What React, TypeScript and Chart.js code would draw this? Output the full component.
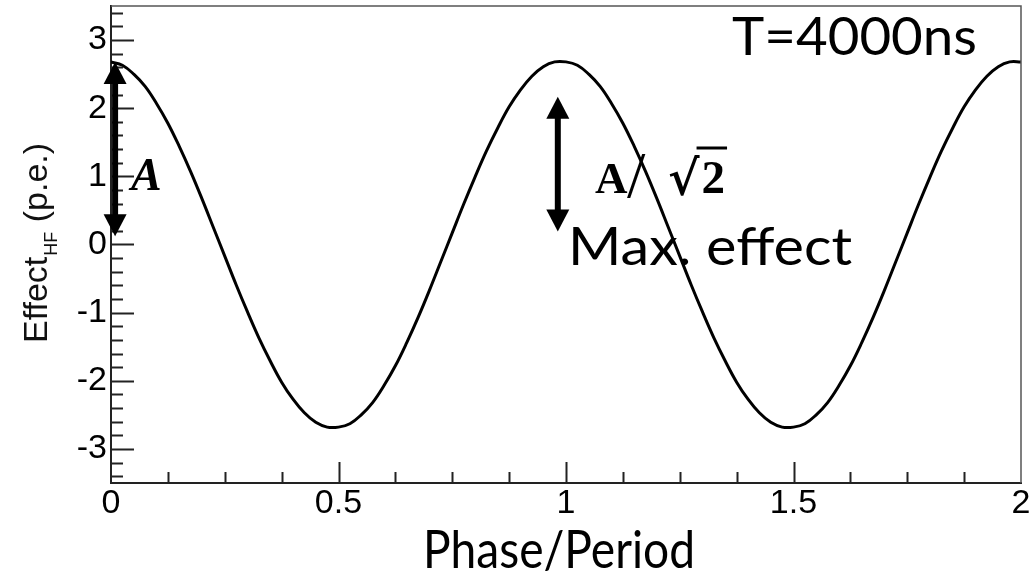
import React, { useEffect, useRef } from "react";
import { Chart, registerables } from "chart.js";

Chart.register(...registerables);

// ---- data ----
const phase = [
  0, 0.025, 0.05, 0.075, 0.1, 0.125, 0.15, 0.175, 0.2, 0.225,
  0.25, 0.275, 0.3, 0.325, 0.35, 0.375, 0.4, 0.425, 0.45, 0.475,
  0.5, 0.525, 0.55, 0.575, 0.6, 0.625, 0.65, 0.675, 0.7, 0.725,
  0.75, 0.775, 0.8, 0.825, 0.85, 0.875, 0.9, 0.925, 0.95, 0.975,
  1.0, 1.025, 1.05, 1.075, 1.1, 1.125, 1.15, 1.175, 1.2, 1.225,
  1.25, 1.275, 1.3, 1.325, 1.35, 1.375, 1.4, 1.425, 1.45, 1.475,
  1.5, 1.525, 1.55, 1.575, 1.6, 1.625, 1.65, 1.675, 1.7, 1.725,
  1.75, 1.775, 1.8, 1.825, 1.85, 1.875, 1.9, 1.925, 1.95, 1.975, 2.0,
];
const effect = [
  2.68, 2.63, 2.5, 2.32, 2.07, 1.78, 1.44, 1.07, 0.67, 0.25,
  -0.17, -0.59, -0.99, -1.37, -1.71, -2.02, -2.27, -2.47, -2.61, -2.68,
  -2.68, -2.63, -2.5, -2.32, -2.07, -1.78, -1.44, -1.07, -0.67, -0.25,
  0.17, 0.59, 0.99, 1.37, 1.71, 2.02, 2.27, 2.47, 2.61, 2.68,
  2.68, 2.63, 2.5, 2.32, 2.07, 1.78, 1.44, 1.07, 0.67, 0.25,
  -0.17, -0.59, -0.99, -1.37, -1.71, -2.02, -2.27, -2.47, -2.61, -2.68,
  -2.68, -2.63, -2.5, -2.32, -2.07, -1.78, -1.44, -1.07, -0.67, -0.25,
  0.17, 0.59, 0.99, 1.37, 1.71, 2.02, 2.27, 2.47, 2.61, 2.68, 2.68,
];
const xTickValues = [0, 0.5, 1, 1.5, 2];
const xTickLabels = ["0", "0.5", "1", "1.5", "2"];
const yTickValues = [-3, -2, -1, 0, 1, 2, 3];
const yTickLabels = ["-3", "-2", "-1", "0", "1", "2", "3"];

const xTitle = "Phase/Period";
const yTitleMain = "Effect";
const yTitleSub = "HF";
const yTitleTail = " (p.e.)";
const periodLabel = "T=4000ns";
const maxLabel = "Max. effect";
const ampLabel = "A";
const ampRootLabel = "A";
const slashLabel = "/";
const rootSign = "\u221A";
const rootArg = "2";

// arrows: [phase, from effect, to effect]
const arrowFull = [0.009, 2.68, 0.12];
const arrowRoot = [0.982, 2.17, 0.19];

const W = 1031;
const H = 577;

function fitText(ctx: CanvasRenderingContext2D, text: string, font: string, x: number, y: number, w: number) {
  ctx.save();
  ctx.font = font;
  ctx.textAlign = "left";
  ctx.textBaseline = "alphabetic";
  const m = ctx.measureText(text).width;
  ctx.translate(x, y);
  ctx.scale(w / m, 1);
  ctx.fillText(text, 0, 0);
  ctx.restore();
}

function drawArrow(ctx: CanvasRenderingContext2D, x: number, y1: number, y2: number) {
  const head = 22;
  const hw = 11.5;
  ctx.save();
  ctx.fillStyle = "#000";
  ctx.strokeStyle = "#000";
  ctx.lineWidth = 6;
  ctx.beginPath();
  ctx.moveTo(x, y1 + head - 2);
  ctx.lineTo(x, y2 - head + 2);
  ctx.stroke();
  ctx.beginPath();
  ctx.moveTo(x, y1);
  ctx.lineTo(x - hw, y1 + head);
  ctx.lineTo(x + hw, y1 + head);
  ctx.closePath();
  ctx.fill();
  ctx.beginPath();
  ctx.moveTo(x, y2);
  ctx.lineTo(x - hw, y2 - head);
  ctx.lineTo(x + hw, y2 - head);
  ctx.closePath();
  ctx.fill();
  ctx.restore();
}

const overlay = {
  id: "overlay",
  afterDraw(chart: any) {
    const ctx: CanvasRenderingContext2D = chart.ctx;
    const { left, right, top, bottom } = chart.chartArea;
    const xs = chart.scales.x;
    const ys = chart.scales.y;
    ctx.save();

    // frame top / right
    ctx.strokeStyle = "#555";
    ctx.lineWidth = 1.5;
    ctx.beginPath();
    ctx.moveTo(left, top);
    ctx.lineTo(right, top);
    ctx.lineTo(right, bottom);
    ctx.stroke();

    // inward ticks
    ctx.strokeStyle = "#222";
    ctx.lineWidth = 2;
    ctx.beginPath();
    for (let i = 1; i < 16; i++) {
      const v = i * 0.125;
      const px = Math.round(xs.getPixelForValue(v)) + 0.5;
      const len = i % 4 === 0 ? 21 : 11;
      ctx.moveTo(px, bottom);
      ctx.lineTo(px, bottom - len);
    }
    for (let i = 0; i <= 34; i++) {
      const v = -3.4 + i * 0.2;
      const py = Math.round(ys.getPixelForValue(v)) + 0.5;
      const len = i % 5 === 2 ? 23 : 12;
      ctx.moveTo(left, py);
      ctx.lineTo(left + len, py);
    }
    ctx.stroke();

    ctx.fillStyle = "#000";

    // y title (rotated, with subscript)
    ctx.save();
    ctx.translate(47, 343);
    ctx.rotate(-Math.PI / 2);
    ctx.textBaseline = "alphabetic";
    ctx.textAlign = "left";
    ctx.fillStyle = "#111";
    const mainFont = '34px "Liberation Sans", Arial, sans-serif';
    const subFont = '18px "Liberation Sans", Arial, sans-serif';
    ctx.font = mainFont;
    ctx.fillText(yTitleMain, 0, 0);
    let off = ctx.measureText(yTitleMain).width + 1;
    ctx.font = subFont;
    ctx.fillText(yTitleSub, off, 10);
    off += ctx.measureText(yTitleSub).width;
    ctx.font = mainFont;
    ctx.fillText(yTitleTail, off, 0);
    ctx.restore();

    // titles / labels
    ctx.fillStyle = "#000";
    fitText(ctx, xTitle, '53px Lato, "Open Sans", sans-serif', 423, 568, 272);
    fitText(ctx, periodLabel, '53px Lato, "Open Sans", sans-serif', 732, 55, 245);
    fitText(ctx, maxLabel, '53px Lato, "Open Sans", sans-serif', 568, 265, 284);

    // arrows
    drawArrow(ctx, xs.getPixelForValue(arrowFull[0]), ys.getPixelForValue(arrowFull[1]), ys.getPixelForValue(arrowFull[2]));
    drawArrow(ctx, xs.getPixelForValue(arrowRoot[0]), ys.getPixelForValue(arrowRoot[1]), ys.getPixelForValue(arrowRoot[2]));

    // A label
    ctx.font = 'italic bold 46px "Liberation Serif", "Times New Roman", serif';
    ctx.textAlign = "left";
    ctx.textBaseline = "alphabetic";
    ctx.fillText(ampLabel, 131, 190);

    // A / sqrt(2)
    ctx.font = 'bold 45px "Liberation Serif", "Times New Roman", serif';
    ctx.fillText(ampRootLabel, 595, 193);
    ctx.font = '66px "Liberation Serif", "Times New Roman", serif';
    ctx.fillText(slashLabel, 627, 197);
    ctx.font = 'bold 48px "DejaVu Serif", "Liberation Serif", serif';
    ctx.fillText(rootSign, 668, 195);
    const rw = ctx.measureText(rootSign).width;
    ctx.font = 'bold 47px "Liberation Serif", "Times New Roman", serif';
    ctx.fillText(rootArg, 668 + rw + 2, 193);
    const aw = ctx.measureText(rootArg).width;
    ctx.lineWidth = 3;
    ctx.strokeStyle = "#000";
    ctx.beginPath();
    ctx.moveTo(668 + rw - 3, 148);
    ctx.lineTo(668 + rw + 4 + aw, 148);
    ctx.stroke();

    ctx.restore();
  },
};

export default function App() {
  const ref = useRef<HTMLCanvasElement | null>(null);
  useEffect(() => {
    if (!ref.current) return;
    const chart = new Chart(ref.current, {
      type: "line",
      data: {
        datasets: [
          {
            data: phase.map((p, i) => ({ x: p, y: effect[i] })),
            borderColor: "#000",
            borderWidth: 3,
            pointRadius: 0,
            fill: false,
            tension: 0.4,
          },
        ],
      },
      options: {
        responsive: false,
        animation: false,
        devicePixelRatio: 1,
        layout: { padding: { top: 6, right: 10, left: 0, bottom: 0 } },
        plugins: { legend: { display: false }, tooltip: { enabled: false } },
        scales: {
          x: {
            type: "linear",
            min: 0,
            max: 2,
            afterBuildTicks: (s: any) => {
              s.ticks = xTickValues.map((v) => ({ value: v }));
            },
            afterFit: (s: any) => {
              s.height = 94;
              s.paddingLeft = 0;
              s.paddingRight = 0;
            },
            ticks: {
              callback: (_v: any, i: number) => xTickLabels[i],
              font: { family: '"Liberation Sans", Arial, sans-serif', size: 34 },
              color: "#000",
              padding: 0,
              maxRotation: 0,
              autoSkip: false,
            },
            grid: { display: false, drawTicks: false },
            border: { display: true, color: "#222", width: 2 },
          },
          y: {
            type: "linear",
            min: -3.5,
            max: 3.5,
            afterBuildTicks: (s: any) => {
              s.ticks = yTickValues.map((v) => ({ value: v }));
            },
            afterFit: (s: any) => {
              s.width = 111;
              s.paddingTop = 0;
              s.paddingBottom = 0;
            },
            ticks: {
              callback: (_v: any, i: number) => yTickLabels[i],
              font: { family: '"Liberation Sans", Arial, sans-serif', size: 34 },
              color: "#000",
              padding: 4,
              autoSkip: false,
            },
            grid: { display: false, drawTicks: false },
            border: { display: true, color: "#222", width: 2 },
          },
        },
      } as any,
      plugins: [overlay],
    });
    return () => chart.destroy();
  }, []);
  return (
    <div style={{ position: "fixed", left: 0, top: 0, width: W, height: H, background: "#fff" }}>
      <canvas ref={ref} width={W} height={H} style={{ display: "block" }} />
    </div>
  );
}
